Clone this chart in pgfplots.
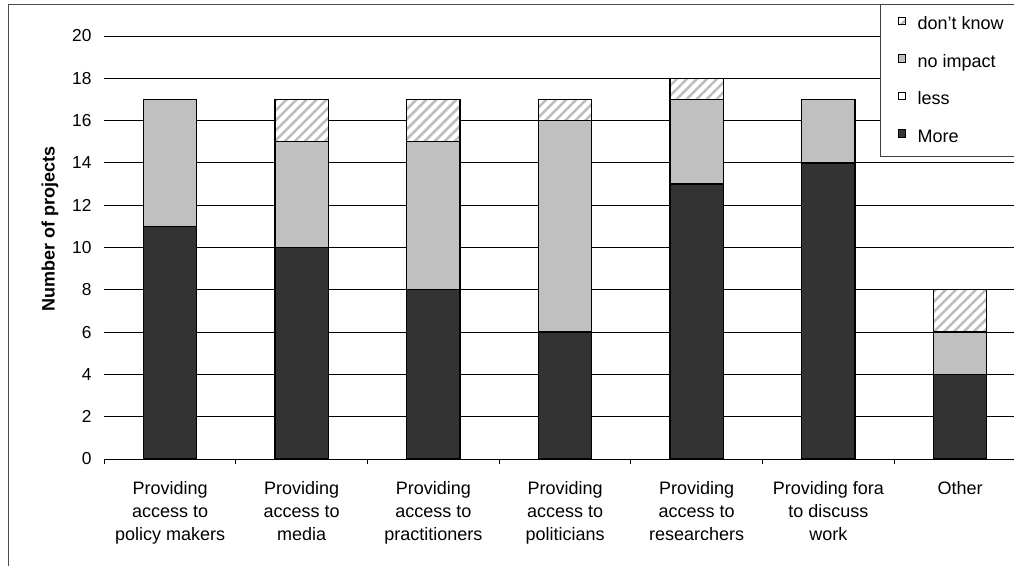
\documentclass[border=0pt]{standalone}
\usepackage{pgfplots}
\pgfplotsset{compat=1.18}
\usepackage{fontspec}
\setmainfont{Liberation Sans}
\usetikzlibrary{patterns.meta}

\definecolor{moreC}{HTML}{333333}
\definecolor{noimpC}{HTML}{C0C0C0}
\definecolor{hatchC}{HTML}{BDBDBD}

\begin{document}
\begin{tikzpicture}
% page frame and clipping
\useasboundingbox (-78.15pt,-80.25pt) rectangle (682.35pt,344.25pt);
\clip (-78.15pt,-80.25pt) rectangle (682.35pt,344.25pt);
% chart area border
\draw[black!70, line width=0.75pt] (-71.4pt,-200pt) rectangle (800pt,340.7pt);

\begin{axis}[
  at={(0,0)}, anchor=south west,
  scale only axis,
  width=691.25pt, height=317.25pt,
  clip=false,
  ybar stacked,
  bar width=0.405,
  xmin=-0.5, xmax=6.5,
  ymin=0, ymax=20,
  ytick={0,2,...,20},
  xtick={0,...,6},
  minor xtick={-0.5,0.5,...,6.5},
  xticklabels={
    {Providing\\access to\\policy makers},
    {Providing\\access to\\media},
    {Providing\\access to\\practitioners},
    {Providing\\access to\\politicians},
    {Providing\\access to\\researchers},
    {Providing fora\\to discuss\\work},
    {Other}},
  axis lines*=left,
  y axis line style={draw=none},
  x axis line style={black, line width=0.6pt},
  tick align=outside,
  major tick length=0pt,
  minor tick length=3.75pt,
  minor tick style={black, line width=0.6pt},
  ytick style={draw=none},
  ymajorgrids,
  grid style={black, line width=0.6pt},
  /pgf/number format/assume math mode=true,
  yticklabel style={font=\fontsize{13}{15}\selectfont, anchor=east, inner sep=0pt, xshift=-9.4pt},
  xticklabel style={font=\fontsize{13.5}{16.9}\selectfont, align=center, anchor=north, inner sep=0pt, yshift=-17pt},
  ylabel={Number of projects},
  every axis y label/.style={at={(rel axis cs:0,0.5437)}, xshift=-40.6pt, rotate=90, anchor=center, font=\fontsize{13.5}{16}\selectfont\bfseries},
  legend image code/.code={\draw[#1, line width=0.6pt] (0pt,0.4pt) rectangle (5.6pt,6.1pt);},
  reverse legend,
  legend cell align=left,
  legend style={at={(rel axis cs:0.8428,1.0733)}, anchor=north west,
    draw=none, fill=none,
    inner xsep=12.5pt, inner ysep=8.6pt,
    row sep=15.4pt, column sep=8.65pt,
    font=\fontsize{13.5}{16}\selectfont,
    nodes={inner sep=0pt, text height=9.8pt, text depth=2.8pt}},
]
% legend frame, below the legend entries
\draw[black!75, line width=0.75pt, fill=white] (rel axis cs:0.8428,0.7163) rectangle (rel axis cs:1.2,1.0733);

% More
\addplot[fill=moreC, draw=black, line width=1pt] coordinates {
  (0,11) (1,10) (2,8) (3,6) (4,13) (5,14) (6,4)};
\addlegendentry{More}
% less
\addplot[fill=white, draw=black, line width=1pt] coordinates {
  (0,0) (1,0) (2,0) (3,0) (4,0) (5,0) (6,0)};
\addlegendentry{less}
% no impact
\addplot[fill=noimpC, draw=black, line width=1pt] coordinates {
  (0,6) (1,5) (2,7) (3,10) (4,4) (5,3) (6,2)};
\addlegendentry{no impact}
% don't know
\addplot[fill=white, draw=black, line width=1pt,
  postaction={pattern={Lines[angle=45, distance=5.3pt, line width=1.9pt]}, pattern color=hatchC}] coordinates {
  (0,0) (1,2) (2,2) (3,1) (4,1) (5,0) (6,2)};
\addlegendentry{don't know}
\end{axis}
\end{tikzpicture}
\end{document}
